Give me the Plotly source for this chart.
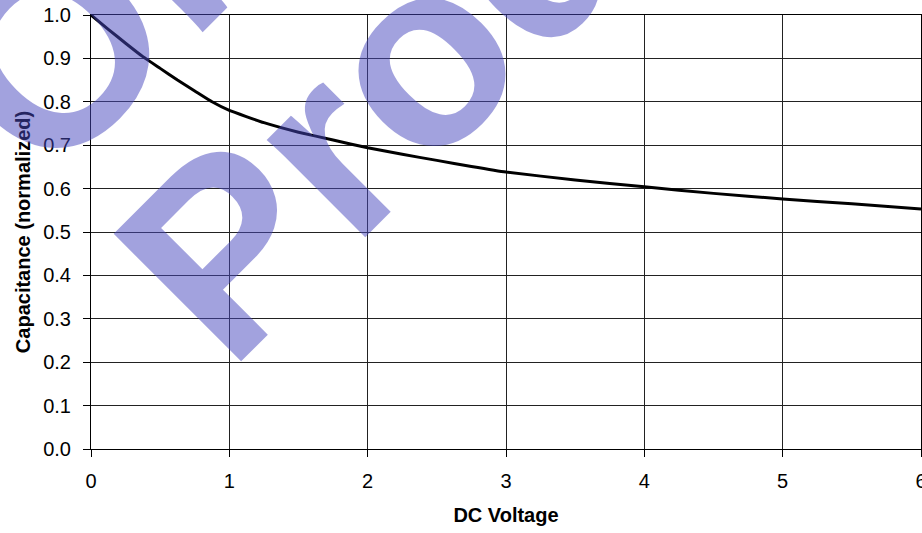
import plotly.graph_objects as go

# DC bias curve
voltage = [0, 0.125, 0.25, 0.375, 0.5, 0.625, 0.75, 0.875, 1.0, 1.25, 1.5, 1.75,
           2.0, 2.25, 2.5, 2.75, 3.0, 3.5, 4.0, 4.5, 5.0, 5.5, 6.0]
capacitance = [1.0, 0.967, 0.935, 0.904, 0.877, 0.85, 0.825, 0.80, 0.78, 0.752, 0.73, 0.712,
               0.694, 0.679, 0.665, 0.651, 0.638, 0.62, 0.604, 0.589, 0.576, 0.565, 0.553]

x_ticks = [0, 1, 2, 3, 4, 5, 6]
y_ticks = [0.0, 0.1, 0.2, 0.3, 0.4, 0.5, 0.6, 0.7, 0.8, 0.9, 1.0]
y_labels = ["%.1f" % v for v in y_ticks]

watermark = ["Obsolete", "Product"]

fig = go.Figure()
fig.add_trace(go.Scatter(x=voltage, y=capacitance, mode="lines",
                         line=dict(color="black", width=3, shape="spline", smoothing=0.4),
                         hoverinfo="skip"))

fig.update_layout(
    width=922, height=533,
    margin=dict(l=91, r=1, t=15, b=84),
    paper_bgcolor="white", plot_bgcolor="white",
    showlegend=False,
    font=dict(family="Liberation Sans, Arial, sans-serif", size=20, color="black"),
)
fig.update_xaxes(
    range=[0, 6], tickvals=x_ticks, ticks="outside", ticklen=7, tickcolor="black",
    ticklabelstandoff=7, automargin=False, ticklabeloverflow="allow",
    showgrid=True, gridcolor="#222", gridwidth=1,
    showline=True, linecolor="black", linewidth=1, mirror=True, zeroline=False,
    title=dict(text="<b>DC Voltage</b>", standoff=16, font=dict(size=20)),
)
fig.update_yaxes(
    range=[0, 1.0], tickvals=y_ticks, ticktext=y_labels, ticks="outside", ticklen=7,
    tickcolor="black", ticklabelstandoff=8, automargin=False, ticklabeloverflow="allow",
    showgrid=True, gridcolor="#222", gridwidth=1,
    showline=True, linecolor="black", linewidth=1, mirror=True, zeroline=False,
    title=dict(text="<b>Capacitance (normalized)</b>", standoff=7, font=dict(size=20)),
)

for text, px, py in [(watermark[0], 0.346, 1.661), (watermark[1], 0.511, 1.127)]:
    fig.add_annotation(text="<b>%s</b>" % text, xref="paper", yref="paper", x=px, y=py,
                       xanchor="center", yanchor="middle", showarrow=False, textangle=-45,
                       font=dict(family="Liberation Sans, Arial, sans-serif", size=262,
                                 color="#4848be"),
                       opacity=0.5)

# drop the default 8px body margin so the figure fills the window exactly
fig.write_html("out.html", config={"displayModeBar": False},
               post_script="document.body.style.margin='0';document.body.style.overflow='hidden';")
